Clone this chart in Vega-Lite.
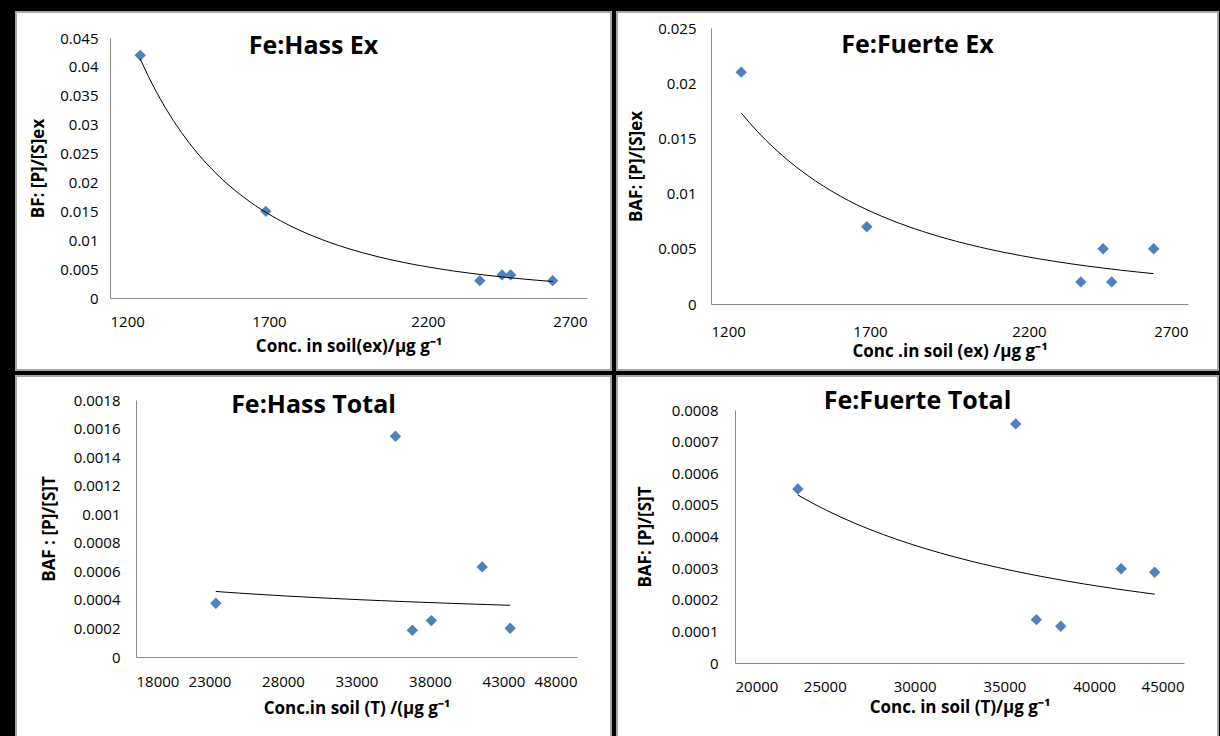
{
  "$schema": "https://vega.github.io/schema/vega-lite/v6.json",
  "background": "black",
  "padding": {"left": 15, "top": 11, "right": 5, "bottom": 2},
  "config": {
    "view": {"fill": "white", "stroke": "#a6a6a6", "strokeWidth": 2},
    "font": "Open Sans",
    "axis": {"grid": false, "ticks": false, "labelOverlap": false, "labelBound": false, "domainColor": "#8a8a8a", "domainWidth": 1, "labelFont": "Open Sans", "labelFontSize": 15, "labelColor": "black", "titleFont": "Open Sans", "titleFontSize": 17, "titleFontWeight": "bold", "titleColor": "black"},
    "title": {"font": "Open Sans", "fontSize": 25, "fontWeight": "bold", "color": "black", "anchor": "middle"},
    "concat": {"spacing": 4}
  },
  "data": {"values": [
    {"panel": "HassEx", "conc": 1295, "baf": 0.042},
    {"panel": "HassEx", "conc": 1690, "baf": 0.015},
    {"panel": "HassEx", "conc": 2363, "baf": 0.003},
    {"panel": "HassEx", "conc": 2433, "baf": 0.004},
    {"panel": "HassEx", "conc": 2460, "baf": 0.004},
    {"panel": "HassEx", "conc": 2592, "baf": 0.003},
    {"panel": "FuerteEx", "conc": 1295, "baf": 0.021},
    {"panel": "FuerteEx", "conc": 1690, "baf": 0.007},
    {"panel": "FuerteEx", "conc": 2363, "baf": 0.002},
    {"panel": "FuerteEx", "conc": 2433, "baf": 0.005},
    {"panel": "FuerteEx", "conc": 2460, "baf": 0.002},
    {"panel": "FuerteEx", "conc": 2592, "baf": 0.005},
    {"panel": "HassT", "conc": 23430, "baf": 0.000376},
    {"panel": "HassT", "conc": 35650, "baf": 0.001546},
    {"panel": "HassT", "conc": 36800, "baf": 0.000187},
    {"panel": "HassT", "conc": 38090, "baf": 0.000255},
    {"panel": "HassT", "conc": 41550, "baf": 0.000631},
    {"panel": "HassT", "conc": 43450, "baf": 0.000201},
    {"panel": "FuerteT", "conc": 23500, "baf": 0.00055},
    {"panel": "FuerteT", "conc": 35630, "baf": 0.000756},
    {"panel": "FuerteT", "conc": 36780, "baf": 0.000137},
    {"panel": "FuerteT", "conc": 38140, "baf": 0.000116},
    {"panel": "FuerteT", "conc": 41500, "baf": 0.000298},
    {"panel": "FuerteT", "conc": 43370, "baf": 0.000287}
  ]},
  "columns": 2,
  "concat": [
    {
      "width": 595, "height": 358,
      "title": {"text": "Fe:Hass Ex", "offset": -47},
      "transform": [{"filter": "datum.panel == 'HassEx'"}],
      "encoding": {
        "x": {"field": "conc", "type": "quantitative", "scale": {"domain": [1200, 2700], "range": [94, 571], "nice": false, "zero": false},
              "axis": {"values": [1200, 1700, 2200, 2700], "format": "d", "offset": -72, "labelPadding": 16, "labelOverlap": false, "title": "Conc. in soil(ex)/µg g⁻¹", "titlePadding": 9}},
        "y": {"field": "baf", "type": "quantitative", "scale": {"domain": [0, 0.045], "range": [286, 26], "nice": false},
              "axis": {"values": [0, 0.005, 0.01, 0.015, 0.02, 0.025, 0.03, 0.035, 0.04, 0.045], "format": "~g", "offset": -94, "labelPadding": 12, "labelOverlap": false, "title": "BF: [P]/[S]ex", "titlePadding": 12}}
      },
      "layer": [
        {"mark": {"type": "point", "shape": "diamond", "filled": true, "size": 130, "color": "#4F81BD", "opacity": 1}},
        {"transform": [{"regression": "baf", "on": "conc", "method": "pow"}],
         "mark": {"type": "line", "color": "black", "strokeWidth": 1}}
      ]
    },
    {
      "width": 601, "height": 358,
      "title": {"text": "Fe:Fuerte Ex", "offset": -46},
      "transform": [{"filter": "datum.panel == 'FuerteEx'"}],
      "encoding": {
        "x": {"field": "conc", "type": "quantitative", "scale": {"domain": [1200, 2700], "range": [94, 571], "nice": false, "zero": false},
              "axis": {"values": [1200, 1700, 2200, 2700], "format": "d", "offset": -66, "labelPadding": 20, "labelOverlap": false, "title": "Conc .in soil (ex) /µg g⁻¹", "titlePadding": 4}},
        "y": {"field": "baf", "type": "quantitative", "scale": {"domain": [0, 0.025], "range": [292, 16], "nice": false},
              "axis": {"values": [0, 0.005, 0.01, 0.015, 0.02, 0.025], "format": "~g", "offset": -94, "labelPadding": 15, "labelOverlap": false, "title": "BAF: [P]/[S]ex", "titlePadding": 12}}
      },
      "layer": [
        {"mark": {"type": "point", "shape": "diamond", "filled": true, "size": 130, "color": "#4F81BD", "opacity": 1}},
        {"transform": [{"regression": "baf", "on": "conc", "method": "pow"}],
         "mark": {"type": "line", "color": "black", "strokeWidth": 1}}
      ]
    },
    {
      "width": 595, "height": 361,
      "title": {"text": "Fe:Hass Total", "offset": -42},
      "transform": [{"filter": "datum.panel == 'HassT'"}],
      "encoding": {
        "x": {"field": "conc", "type": "quantitative", "scale": {"domain": [18000, 48000], "range": [120, 561], "nice": false, "zero": false},
              "axis": {"values": [18000, 23000, 28000, 33000, 38000, 43000, 48000], "format": "d", "offset": -80, "labelPadding": 17, "labelOverlap": false, "title": "Conc.in soil (T) /(µg g⁻¹", "titlePadding": 11}},
        "y": {"field": "baf", "type": "quantitative", "scale": {"domain": [0, 0.0018], "range": [281, 24], "nice": false},
              "axis": {"values": [0, 0.0002, 0.0004, 0.0006, 0.0008, 0.001, 0.0012, 0.0014, 0.0016, 0.0018], "format": "~g", "offset": -120, "labelPadding": 16, "labelOverlap": false, "title": "BAF : [P]/[S]T", "titlePadding": 15}}
      },
      "layer": [
        {"mark": {"type": "point", "shape": "diamond", "filled": true, "size": 130, "color": "#4F81BD", "opacity": 1}},
        {"transform": [{"regression": "baf", "on": "conc", "method": "pow"}],
         "mark": {"type": "line", "color": "black", "strokeWidth": 1}}
      ]
    },
    {
      "width": 601, "height": 361,
      "title": {"text": "Fe:Fuerte Total", "offset": -38},
      "transform": [{"filter": "datum.panel == 'FuerteT'"}],
      "encoding": {
        "x": {"field": "conc", "type": "quantitative", "scale": {"domain": [20000, 45000], "range": [118, 567], "nice": false, "zero": false},
              "axis": {"values": [20000, 25000, 30000, 35000, 40000, 45000], "format": "d", "offset": -74, "labelPadding": 16, "labelOverlap": false, "title": "Conc. in soil (T)/µg g⁻¹", "titlePadding": 5}},
        "y": {"field": "baf", "type": "quantitative", "scale": {"domain": [0, 0.0008], "range": [287, 34], "nice": false},
              "axis": {"values": [0, 0.0001, 0.0002, 0.0003, 0.0004, 0.0005, 0.0006, 0.0007, 0.0008], "format": "~g", "offset": -118, "labelPadding": 17, "labelOverlap": false, "title": "BAF:  [P]/[S]T", "titlePadding": 17}}
      },
      "layer": [
        {"mark": {"type": "point", "shape": "diamond", "filled": true, "size": 130, "color": "#4F81BD", "opacity": 1}},
        {"transform": [{"regression": "baf", "on": "conc", "method": "pow"}],
         "mark": {"type": "line", "color": "black", "strokeWidth": 1}}
      ]
    }
  ]
}
